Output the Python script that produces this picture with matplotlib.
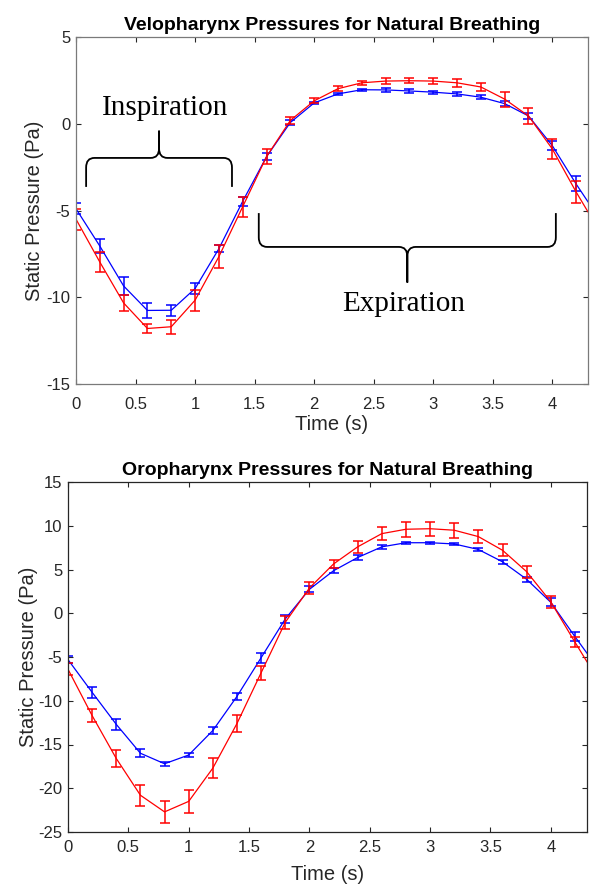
import numpy as np
import matplotlib
matplotlib.use('Agg')
import matplotlib.pyplot as plt
from matplotlib.path import Path
from matplotlib.patches import PathPatch

plt.rcParams['font.family'] = ['Liberation Sans', 'DejaVu Sans']

# sample times (s)
time = [0.0, 0.2, 0.4, 0.6, 0.8, 1.0, 1.2, 1.4, 1.6, 1.8, 2.0,
        2.2, 2.4, 2.6, 2.8, 3.0, 3.2, 3.4, 3.6, 3.8, 4.0, 4.2]
t_end = 4.3

# Velopharynx (Pa)
velo_blue = [-4.9, -7.05, -9.35, -10.76, -10.75, -9.5, -7.2, -4.47, -1.9, 0.07, 1.2,
             1.72, 1.96, 1.95, 1.89, 1.82, 1.72, 1.53, 1.16, 0.45, -1.26, -3.47]
velo_blue_err = [0.31, 0.41, 0.51, 0.41, 0.31, 0.31, 0.21, 0.27, 0.21, 0.14, 0.08,
                 0.08, 0.07, 0.1, 0.1, 0.09, 0.1, 0.11, 0.13, 0.19, 0.27, 0.43]
velo_blue_end = -4.5
velo_red = [-5.5, -7.97, -10.33, -11.8, -11.7, -10.17, -7.66, -4.78, -1.9, 0.19, 1.32,
            2.02, 2.36, 2.46, 2.48, 2.46, 2.36, 2.12, 1.42, 0.45, -1.45, -3.93]
velo_red_err = [0.6, 0.6, 0.46, 0.27, 0.4, 0.6, 0.67, 0.58, 0.43, 0.22, 0.14,
                0.13, 0.13, 0.16, 0.14, 0.16, 0.22, 0.21, 0.43, 0.48, 0.58, 0.64]
velo_red_end = -5.08

# Oropharynx (Pa)
oro_blue = [-5.3, -9.04, -12.7, -16.0, -17.2, -16.2, -13.4, -9.5, -5.08, -0.65, 2.73,
            4.86, 6.37, 7.59, 8.06, 8.06, 7.92, 7.29, 5.88, 3.88, 1.25, -2.67]
oro_blue_err = [0.43, 0.63, 0.59, 0.43, 0.2, 0.25, 0.43, 0.43, 0.59, 0.47, 0.35,
                0.29, 0.24, 0.2, 0.12, 0.12, 0.14, 0.18, 0.25, 0.29, 0.45, 0.53]
oro_blue_end = -4.57
oro_red = [-6.4, -11.7, -16.6, -20.8, -22.7, -21.5, -17.7, -12.6, -6.8, -1.04, 2.88,
           5.63, 7.59, 9.1, 9.6, 9.66, 9.49, 8.76, 7.2, 4.75, 1.31, -3.3]
oro_red_err = [0.67, 0.78, 0.94, 1.18, 1.27, 1.33, 1.14, 1.0, 0.82, 0.78, 0.67,
               0.51, 0.67, 0.73, 0.84, 0.78, 0.84, 0.78, 0.67, 0.69, 0.67, 0.59]
oro_red_end = -5.55

x_ticks = [0, 0.5, 1, 1.5, 2, 2.5, 3, 3.5, 4]
x_tick_labels = ['0', '0.5', '1', '1.5', '2', '2.5', '3', '3.5', '4']


def draw_brace(ax, x0, x1, y_end, y_mid, y_tip, dx=0.07, dy=0.55):
    # curly brace: ends at y_end, long stroke at y_mid, tip at y_tip
    s = 1 if y_mid > y_end else -1
    xc = (x0 + x1) / 2
    verts = [(x0, y_end), (x0, y_mid - s * dy), (x0, y_mid), (x0 + dx, y_mid),
             (xc - dx, y_mid), (xc, y_mid), (xc, y_mid + s * dy), (xc, y_tip),
             (xc, y_mid + s * dy), (xc, y_mid), (xc + dx, y_mid),
             (x1 - dx, y_mid), (x1, y_mid), (x1, y_mid - s * dy), (x1, y_end)]
    codes = [Path.MOVETO, Path.LINETO, Path.CURVE3, Path.CURVE3,
             Path.LINETO, Path.CURVE3, Path.CURVE3, Path.LINETO,
             Path.LINETO, Path.CURVE3, Path.CURVE3,
             Path.LINETO, Path.CURVE3, Path.CURVE3, Path.LINETO]
    ax.add_patch(PathPatch(Path(verts, codes), fill=False, lw=1.3, color='black',
                           capstyle='butt', joinstyle='miter'))


def draw_panel(ax, blue, blue_err, blue_end, red, red_err, red_end, title, ylim, yticks,
               spine_color, xpad, xlabelpad, ylabelpad):
    for vals, errs, end, col in [(blue, blue_err, blue_end, 'blue'), (red, red_err, red_end, 'red')]:
        ax.plot(time + [t_end], vals + [end], color=col, lw=0.9)
        ax.errorbar(time, vals, yerr=errs, fmt='none', ecolor=col, elinewidth=1.1,
                    capsize=3.6, capthick=1.1)
    ax.set_xlim(0, t_end)
    ax.set_ylim(*ylim)
    ax.set_xticks(x_ticks)
    ax.set_xticklabels(x_tick_labels)
    ax.set_yticks(yticks)
    ax.set_yticklabels([str(v) for v in yticks])
    ax.tick_params(direction='in', length=3.5, width=0.8, labelsize=12, colors='#262626',
                   top=True, right=True, pad=4)
    ax.tick_params(axis='x', pad=xpad)
    for sp in ax.spines.values():
        sp.set_color(spine_color)
        sp.set_linewidth(0.9)
    ax.set_title(title, fontsize=14, fontweight='bold', pad=5)
    ax.set_xlabel('Time (s)', fontsize=14.5, labelpad=xlabelpad, color='#262626')
    ax.set_ylabel('Static Pressure (Pa)', fontsize=14.5, labelpad=ylabelpad, color='#262626')


fig = plt.figure(figsize=(5.92, 8.84), dpi=100)
ax1 = fig.add_axes([76 / 592, 1 - 384 / 884, 512 / 592, 347 / 884])
ax2 = fig.add_axes([68 / 592, 1 - 832 / 884, 519 / 592, 350 / 884])

draw_panel(ax1, velo_blue, velo_blue_err, velo_blue_end, velo_red, velo_red_err, velo_red_end,
           'Velopharynx Pressures for Natural Breathing', (-15, 5), [-15, -10, -5, 0, 5],
           '#7a7a7a', 9.5, 2, 2)
draw_panel(ax2, oro_blue, oro_blue_err, oro_blue_end, oro_red, oro_red_err, oro_red_end,
           'Oropharynx Pressures for Natural Breathing', (-25, 15),
           [-25, -20, -15, -10, -5, 0, 5, 10, 15], '#262626', 6, 7, 0)

# phase annotations on the top panel
draw_brace(ax1, 0.085, 1.31, -3.64, -1.97, -0.4)
ax1.text(0.75, 0.9, 'Inspiration', fontsize=21, family=['Liberation Serif'],
         ha='center', va='center')
draw_brace(ax1, 1.535, 4.03, -5.15, -7.1, -9.15)
ax1.text(2.75, -10.4, 'Expiration', fontsize=21, family=['Liberation Serif'],
         ha='center', va='center')

fig.savefig('out.png', dpi=100)
